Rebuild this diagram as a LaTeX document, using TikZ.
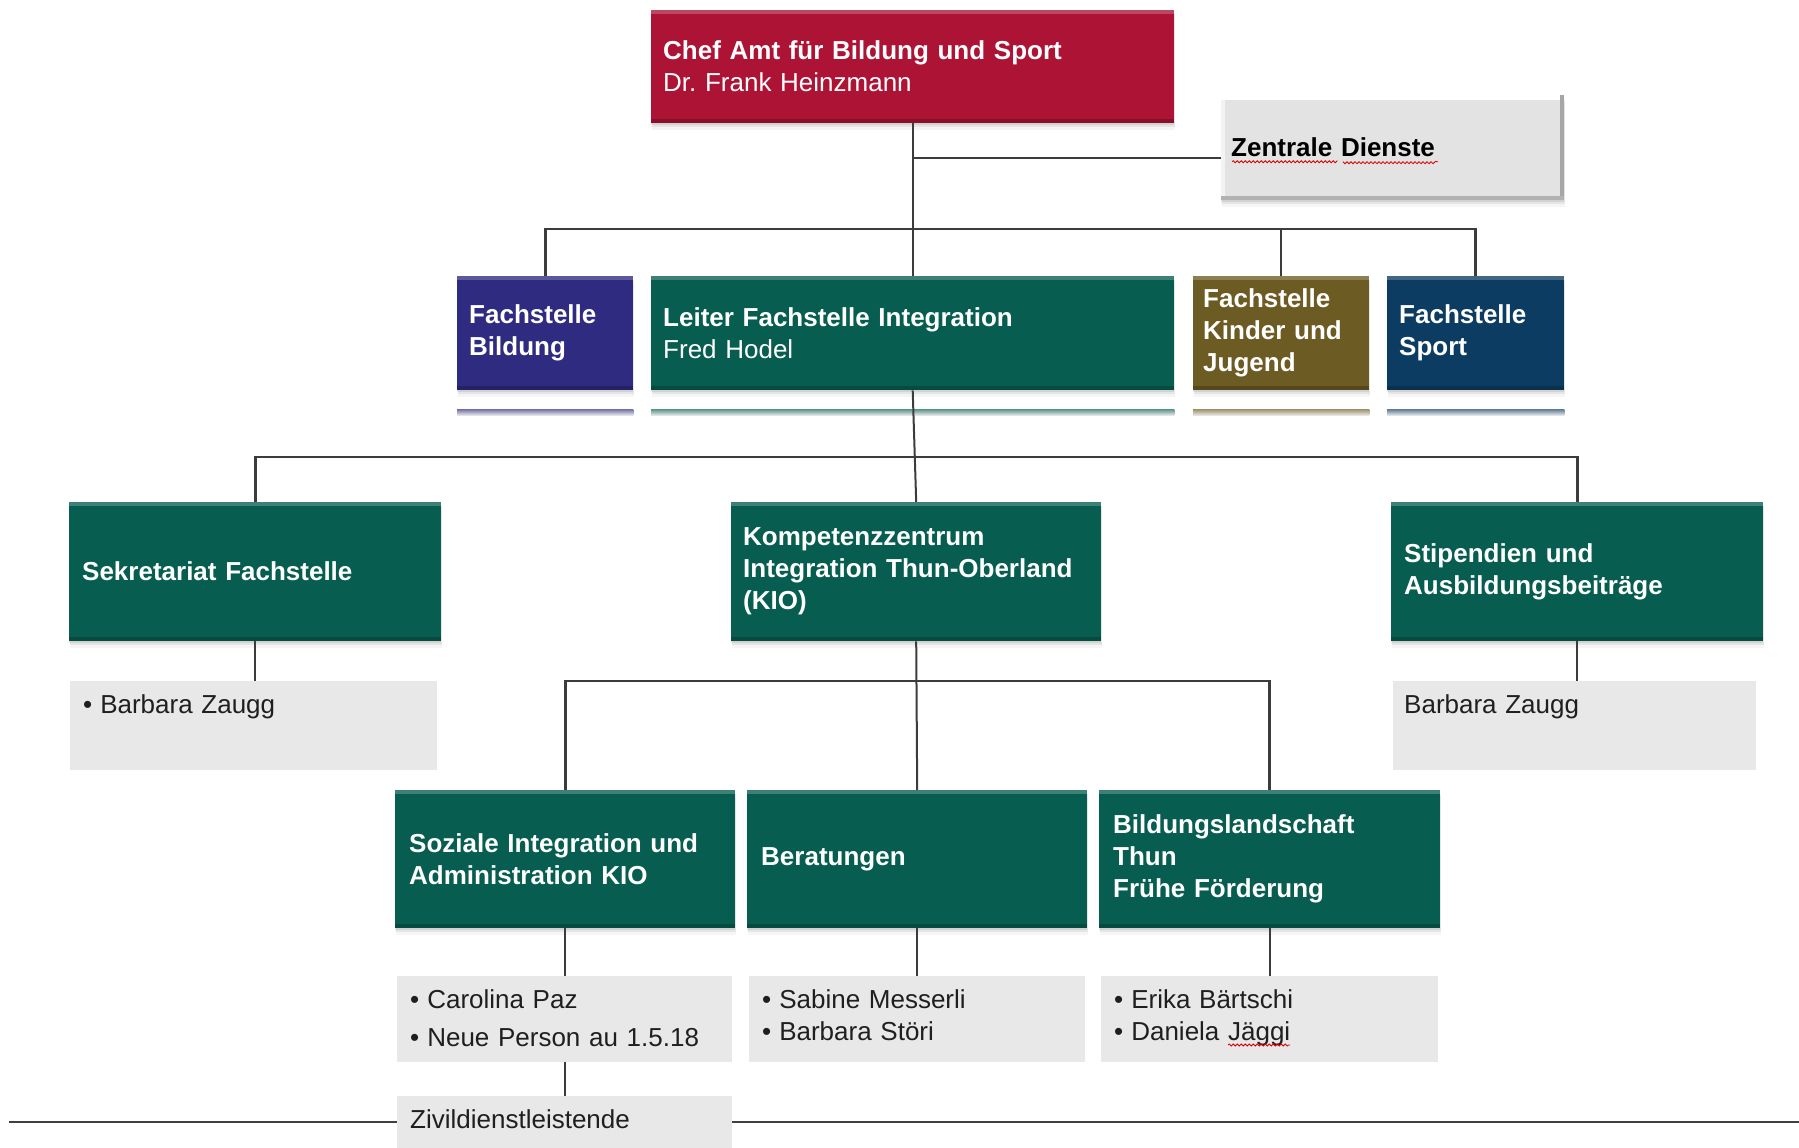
\documentclass[tikz,border=0pt]{standalone}
\usepackage{fontspec}
\setmainfont{Liberation Sans}
\usetikzlibrary{positioning,shadows,decorations.pathmorphing}

\definecolor{amtred}{HTML}{AD1335}
\definecolor{integgreen}{HTML}{075E50}
\definecolor{bildviolet}{HTML}{2E2B80}
\definecolor{jugendolive}{HTML}{6D5B24}
\definecolor{sportblue}{HTML}{0C3C61}
\definecolor{zdgray}{HTML}{E3E3E3}
\definecolor{listgray}{HTML}{E8E8E8}
\definecolor{linegray}{HTML}{3C3C3C}

\newcommand{\pers}[1]{\textbullet\hspace{8pt}#1}
\frenchspacing

\begin{document}
\begin{tikzpicture}[
    x=1pt, y=-1pt,
    every node/.style={font=\fontsize{26}{32}\selectfont},
    soft shadow/.style={
        drop shadow={shadow xshift=0pt, shadow yshift=-2pt, opacity=.18},
        drop shadow={shadow xshift=1pt, shadow yshift=-4pt, opacity=.14},
        drop shadow={shadow xshift=1pt, shadow yshift=-7pt, opacity=.08}},
    unit/.style={fill=#1, text=white, font=\fontsize{26}{32}\selectfont\bfseries, align=left,
        anchor=north west, inner xsep=12pt, inner ysep=0pt, soft shadow,
        path picture={
            \fill[white, opacity=.22] (path picture bounding box.north west) rectangle ([yshift=-4pt]path picture bounding box.north east);
            \fill[black, opacity=.2] ([yshift=4pt]path picture bounding box.south west) rectangle (path picture bounding box.south east);
        }},
    service/.style={fill=zdgray, text=black, font=\fontsize{26}{32}\selectfont\bfseries, align=left,
        anchor=north west, inner xsep=10pt, inner ysep=0pt, soft shadow,
        path picture={
            \fill[white] (path picture bounding box.north west) rectangle ([yshift=-5pt]path picture bounding box.north east);
            \fill[white, opacity=.6] (path picture bounding box.north west) rectangle ([xshift=4pt]path picture bounding box.south west);
            \fill[black!35] ([xshift=-4pt]path picture bounding box.north east) rectangle (path picture bounding box.south east);
            \fill[black!30] ([yshift=4pt]path picture bounding box.south west) rectangle (path picture bounding box.south east);
        }},
    people/.style={fill=listgray, text=black!88, align=left, anchor=north west,
        inner xsep=13pt, inner ysep=0pt, text height=32pt},
    link/.style={draw=linegray, line width=2pt},
    bar/.style={link, line width=2.6pt},
    spell/.style={draw=red!85!black, line width=.8pt, decorate,
        decoration={snake, amplitude=1pt, segment length=4pt}}
]
\useasboundingbox (0,0) rectangle (1799,1148);

% Amtsleitung
\node[unit=amtred, text width=499pt, minimum height=113pt] (chef) at (651,10)
    {Chef Amt für Bildung und Sport\\\mdseries Dr. Frank Heinzmann};
\node[service, text width=323pt, minimum height=105pt] (zentrale) at (1221,95) {Zentrale Dienste};

% Fachstellen
\node[unit=bildviolet, text width=152pt, minimum height=114pt] (bildung) at (457,276) {Fachstelle\\Bildung};
\node[unit=integgreen, text width=499pt, minimum height=114pt] (leiter) at (651,276)
    {Leiter Fachstelle Integration\\\mdseries Fred Hodel};
\node[unit=jugendolive, text width=156pt, inner xsep=10pt, minimum height=114pt] (kinder) at (1193,276)
    {Fachstelle\\Kinder und\\Jugend};
\node[unit=sportblue, text width=153pt, minimum height=114pt] (sport) at (1387,276) {Fachstelle\\Sport};

\foreach \b/\c in {bildung/bildviolet, leiter/integgreen, kinder/jugendolive, sport/sportblue}
    \shade[top color=\c!65!white, bottom color=black!8] ([yshift=-19pt]\b.south west) rectangle ([yshift=-25pt]\b.south east);

% Integration
\node[unit=integgreen, text width=346pt, inner xsep=13pt, minimum height=139pt] (sek) at (69,502) {Sekretariat Fachstelle};
\node[unit=integgreen, text width=346pt, minimum height=139pt] (kio) at (731,502)
    {Kompetenzzentrum\\Integration Thun-Oberland\\(KIO)};
\node[unit=integgreen, text width=346pt, inner xsep=13pt, minimum height=139pt] (stip) at (1391,502)
    {Stipendien und\\Ausbildungsbeiträge};

\node[people, text width=341pt, text depth=57pt] (seklist) at (70,681) {\pers{Barbara Zaugg}};
\node[people, text width=341pt, text depth=57pt, inner xsep=11pt] (stiplist) at (1393,681) {Barbara Zaugg};

% KIO
\node[unit=integgreen, text width=312pt, inner xsep=14pt, minimum height=138pt] (soz) at (395,790)
    {Soziale Integration und\\Administration KIO};
\node[unit=integgreen, text width=312pt, inner xsep=14pt, minimum height=138pt] (ber) at (747,790) {Beratungen};
\node[unit=integgreen, text width=313pt, inner xsep=14pt, minimum height=138pt] (bil) at (1099,790)
    {Bildungslandschaft\\Thun\\Frühe Förderung};

\node[people, text width=309pt, text depth=54pt] (sozlist) at (397,976)
    {\pers{Carolina Paz}\\[6pt]\pers{Neue Person au 1.5.18}};
\node[people, text width=310pt, text depth=54pt] (berlist) at (749,976)
    {\pers{Sabine Messerli}\\\pers{Barbara Störi}};
\node[people, text width=311pt, text depth=54pt] (billist) at (1101,976)
    {\pers{Erika Bärtschi}\\\pers{Daniela Jäggi}};
\node[people, text width=309pt, text depth=20pt] (zivil) at (397,1096) {Zivildienstleistende};

% Linien
\draw[link] (chef.south) -- (leiter.north);
\draw[link] (zentrale.west) ++(0,10) coordinate (zd) -- (zd -| chef.south);
\draw[bar] (bildung.north) -- ++(0,-47) -| (sport.north);
\draw[link] (kinder.north) -- ++(0,-47);
\draw[link] (leiter.south) -- (kio.north);
\draw[bar] (sek.north) -- ++(0,-45) -| (stip.north);
\draw[link] (kio.south) -- (ber.north);
\draw[bar] (soz.north) -- ++(0,-109) -| (bil.north);
\foreach \a/\b in {sek/seklist, stip/stiplist, soz/sozlist, ber/berlist, bil/billist, sozlist/zivil}
    \draw[link] (\a.south) -- (\a.south |- \b.north);

\coordinate (footl) at (9,1122);
\coordinate (footr) at (1799,1122);
\draw[bar, draw=black!75] (footl) -- (footl -| zivil.west);
\draw[bar, draw=black!75] (zivil.east |- footr) -- (footr);

\draw[spell] ([xshift=11pt,yshift=-14pt]zentrale.west) -- ++(105,0) ++(6,0) -- ++(95,0);
\draw[spell] ([xshift=127pt,yshift=-69pt]billist.north west) -- ++(62,0);
\end{tikzpicture}
\end{document}
